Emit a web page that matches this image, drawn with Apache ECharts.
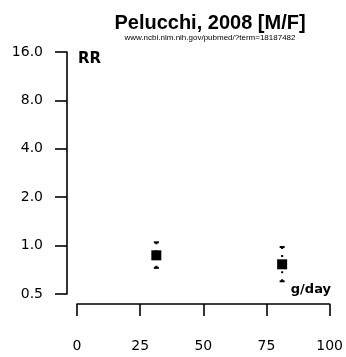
<!DOCTYPE html>
<html>
<head>
<meta charset="utf-8">
<script src="https://cdn.jsdelivr.net/npm/echarts@6/dist/echarts.min.js"></script>
<style>
  html, body { margin: 0; padding: 0; background: #fff; }
  #chart { width: 346px; height: 357px; }
</style>
</head>
<body>
<div id="chart"></div>
<script>
// Dose categories (g/day) and relative risks with 95% confidence limits
const doses = [31.4, 81.2];
const rr = [0.87, 0.765];
const rrLow = [0.727, 0.60];
const rrHigh = [1.048, 0.98];

// Axis tick values
const xTicks = [0, 25, 50, 75, 100];
const yTicks = [0.5, 1, 2, 4, 8, 16];

const pointData = doses.map((d, i) => [d, rr[i]]);
const ciData = doses.map((d, i) => [d, rrLow[i], rrHigh[i], rr[i]]);

const chart = echarts.init(document.getElementById('chart'), null, { renderer: 'canvas' });

const axisColor = '#000';
const labelFont = { fontFamily: 'DejaVu Sans', fontSize: 14, color: '#000' };

chart.setOption({
  animation: false,
  backgroundColor: '#fff',
  title: {
    text: 'Pelucchi, 2008 [M/F]',
    subtext: 'www.ncbi.nlm.nih.gov/pubmed/?term=18187482',
    left: 205,
    top: 8,
    textAlign: 'center',
    itemGap: 1,
    textStyle: { fontFamily: 'Liberation Sans', fontWeight: 'bold', fontSize: 20, color: '#000' },
    subtextStyle: { fontFamily: 'Liberation Sans', fontSize: 8, color: '#000' }
  },
  grid: { left: 77, right: 14, top: 52, bottom: 63 },
  xAxis: {
    type: 'value',
    min: xTicks[0],
    max: xTicks[xTicks.length - 1],
    interval: 25,
    position: 'bottom',
    offset: 10,
    axisLine: { show: true, onZero: false, lineStyle: { color: axisColor, width: 1.6 } },
    axisTick: { show: true, length: 12, lineStyle: { color: axisColor, width: 1.6 } },
    axisLabel: { margin: 35, ...labelFont },
    splitLine: { show: false }
  },
  yAxis: {
    type: 'log',
    logBase: 2,
    min: yTicks[0],
    max: yTicks[yTicks.length - 1],
    position: 'left',
    offset: 10,
    axisLine: { show: true, onZero: false, lineStyle: { color: axisColor, width: 1.6 } },
    axisTick: { show: true, length: 12, lineStyle: { color: axisColor, width: 1.6 } },
    axisLabel: { margin: 24, formatter: v => Number(v).toFixed(1), ...labelFont },
    splitLine: { show: false }
  },
  graphic: [
    {
      type: 'text', left: 78, top: 52,
      style: { text: 'RR', fontFamily: 'DejaVu Sans', fontWeight: 'bold', fontSize: 15, fill: '#000' }
    },
    {
      type: 'text', right: 15, top: 283,
      style: { text: 'g/day', fontFamily: 'DejaVu Sans', fontWeight: 'bold', fontSize: 13, fill: '#000' }
    }
  ],
  series: [
    {
      // dotted confidence-interval whiskers with short caps
      type: 'custom',
      data: ciData,
      z: 1,
      renderItem: (params, api) => {
        const x = api.value(0);
        const lo = api.coord([x, api.value(1)]);
        const hi = api.coord([x, api.value(2)]);
        const mid = api.coord([x, api.value(3)]);
        const dotted = { stroke: '#000', lineWidth: 2, lineDash: [2, 6] };
        const cap = { stroke: '#000', lineWidth: 2 };
        return {
          type: 'group',
          children: [
            { type: 'line', shape: { x1: hi[0], y1: hi[1], x2: mid[0], y2: mid[1] }, style: dotted },
            { type: 'line', shape: { x1: lo[0], y1: lo[1], x2: mid[0], y2: mid[1] }, style: dotted },
            { type: 'line', shape: { x1: hi[0] - 2.5, y1: hi[1], x2: hi[0] + 2.5, y2: hi[1] }, style: cap },
            { type: 'line', shape: { x1: lo[0] - 2.5, y1: lo[1], x2: lo[0] + 2.5, y2: lo[1] }, style: cap }
          ]
        };
      }
    },
    {
      type: 'scatter',
      data: pointData,
      symbol: 'rect',
      symbolSize: 10,
      z: 2,
      itemStyle: { color: '#000', opacity: 1 }
    }
  ]
});
</script>
</body>
</html>
